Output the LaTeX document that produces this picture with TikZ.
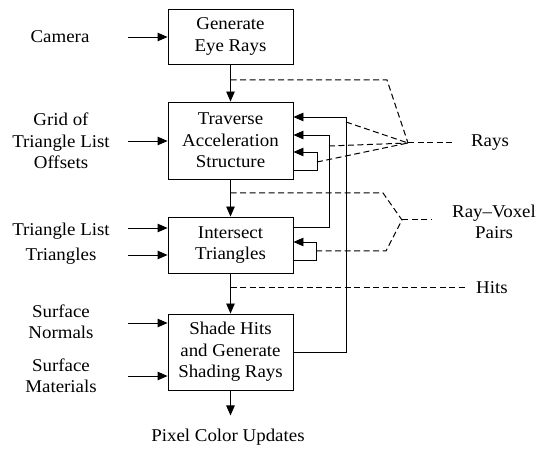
\documentclass[tikz,border=0pt]{standalone}
\usepackage{fontspec}
\setmainfont{Liberation Serif}[FakeStretch=1.05]
\usetikzlibrary{arrows.meta,positioning,calc}
\tikzset{
  stage/.style={draw, line width=0.9pt, minimum width=125pt, align=center, inner sep=2pt},
  flow/.style={line width=0.9pt, -{Triangle[length=10pt,width=8.5pt]}},
  data/.style={line width=1pt, dash pattern=on 6pt off 3.5pt},
  lbl/.style={align=center, inner sep=0pt},
}
\begin{document}
\begin{tikzpicture}[x=1pt,y=-1pt,font=\fontsize{18}{21.5}\selectfont]
\useasboundingbox (0,0) rectangle (542,449);

% pipeline stages
\node[stage, minimum height=55pt] (gen)   at (230.5,36.5)  {Generate\\Eye Rays};
\node[stage, minimum height=77pt] (trav)  at (230.5,140.5) {Traverse\\Acceleration\\Structure};
\node[stage, minimum height=56pt] (isect) at (230.5,245)   {Intersect\\Triangles};
\node[stage, minimum height=76pt] (shade) at (230.5,352)   {Shade Hits\\and Generate\\Shading Rays};
\node[lbl] (pix) at (228,437) {Pixel Color Updates};

% inputs
\node[lbl] (cam)  at (60,37)  {Camera};
\node[lbl] (grid) at (61,141) {Grid of\\Triangle List\\Offsets};
\node[lbl] (tl)   at (61,231) {Triangle List};
\node[lbl] (tri)  at (61,256) {Triangles};
\node[lbl] (norm) at (61,322) {Surface\\Normals};
\node[lbl] (mat)  at (61,376) {Surface\\Materials};

\draw[flow] (128,37)  -- (gen.west |- 0,37);
\draw[flow] (128,141) -- (trav.west |- 0,141);
\draw[flow] (128,228) -- (isect.west |- 0,228);
\draw[flow] (128,255) -- (isect.west |- 0,255);
\draw[flow] (128,323) -- (shade.west |- 0,323);
\draw[flow] (128,376) -- (shade.west |- 0,376);

% main flow
\draw[flow] (gen.south)   -- (trav.north);
\draw[flow] (trav.south)  -- (isect.north);
\draw[flow] (isect.south) -- (shade.north);
\draw[flow] (shade.south) -- ++(0,25) coordinate (pixtip);

% feedback paths
\draw[flow] (shade.east) -- (346,352) -- (346,117) -- (trav.east |- 0,117);
\draw[flow] (isect.east |- 0,227) -- (329,227) -- (329,135) -- (trav.east |- 0,135);
\draw[flow] (trav.east |- 0,170) -- (317,170) -- (317,152) -- (trav.east |- 0,152);
\draw[flow] (isect.east |- 0,260) -- (316,260) -- (316,242) -- (isect.east |- 0,242);

% data labels
\coordinate (rays) at (408,143);
\coordinate (rv)   at (402,220);
\node[lbl] (raylbl) at (490,143) {Rays};
\node[lbl] (rvlbl)  at (494,222) {Ray--Voxel\\Pairs};
\node[lbl] (hitlbl) at (492,288) {Hits};

\draw[data] (gen.south |- 0,80) -- (387,80) -- (rays);
\draw[data] (346,122) -- (rays);
\draw[data] (329,146) -- (rays);
\draw[data] (317,162) -- (rays);
\draw[data] (rays) -- (455,143);

\draw[data] (trav.south |- 0,193) -- (383,193) -- (rv);
\draw[data] (316,251) -- (386,251) -- (rv);
\draw[data] (rv) -- (432,220);

\draw[data] (isect.south |- 0,288) -- (465,288);
\end{tikzpicture}
\end{document}
